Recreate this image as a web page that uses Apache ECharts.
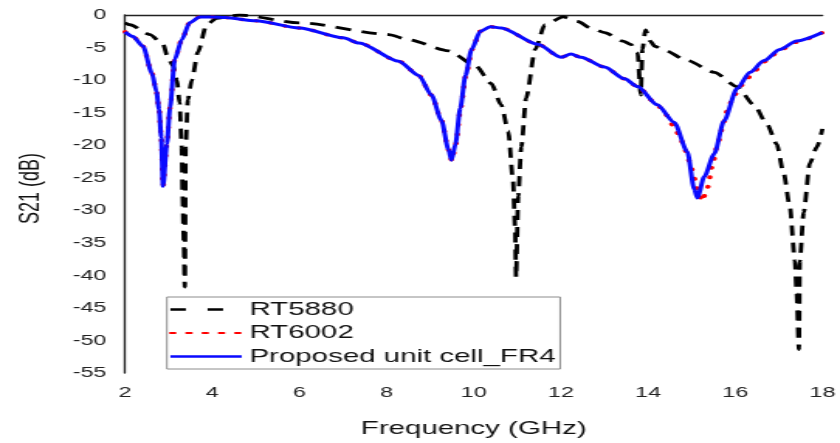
<!DOCTYPE html>
<html>
<head>
<meta charset="utf-8">
<title>S21</title>
<script src="https://cdn.jsdelivr.net/npm/echarts@6.0.0/dist/echarts.min.js"></script>
<style>
    html, body { margin: 0; padding: 0; background: #fff; overflow: hidden; }
    /* the source picture is stretched sideways, so draw narrow and stretch the same way */
    #chart { width: 542px; height: 443px; transform: scaleX(1.5498); transform-origin: 0 0; }
</style>
</head>
<body>
<div id="chart"></div>
<script>
    // x: frequency (GHz), y: S21 (dB)
    var xTicks = [2, 4, 6, 8, 10, 12, 14, 16, 18];
    var yTicks = [0, -5, -10, -15, -20, -25, -30, -35, -40, -45, -50, -55];

    var rt5880Freq = [2.0, 2.11, 2.57, 2.87, 2.98, 3.10, 3.19, 3.25, 3.30, 3.32, 3.35, 3.37, 3.39, 3.44, 3.53, 3.67, 3.87, 4.1, 4.63, 6.0,
        8.05, 8.5, 9.42, 10.04, 10.4, 10.63, 10.79, 10.9, 10.95, 10.97, 11.02, 11.09, 11.2, 11.41, 11.63, 12.05, 12.39, 12.68, 13.0, 13.42,
        13.6, 13.76, 13.83, 13.87, 13.94, 14.05, 14.15, 14.37, 14.9, 15.52, 16.04, 16.43, 16.73, 16.95, 17.11, 17.25, 17.37, 17.41, 17.46,
        17.48, 17.57, 17.71, 17.87, 18.0];
    var rt5880S21 = [-1.2, -1.5, -3.0, -4.5, -6.5, -7.8, -10.0, -13.5, -20.3, -27.8, -35.3, -41.8, -20.3, -13.0, -10.0, -5.7, -1.5, -0.5, 0, -1.2,
        -3.0, -3.8, -5.5, -7.8, -10.5, -13.8, -17.8, -25.3, -32.8, -40.3, -27.8, -20.3, -12.8, -5.3, -1.5, -0.3, -1.0, -2.0, -2.7, -4.0,
        -4.5, -5.8, -12.3, -5.3, -2.3, -4.0, -4.8, -5.4, -7.0, -8.8, -11.0, -13.8, -16.8, -19.8, -24.3, -29.3, -37.8, -42.8, -51.4,
        -37.8, -30.3, -22.8, -20.3, -17.5];

    var rt6002Freq = [2.0, 2.18, 2.41, 2.62, 2.72, 2.78, 2.83, 2.87, 2.96, 3.03, 3.14, 3.30, 3.48, 3.71, 4.0, 4.3, 5.0, 6.0, 7.0, 7.37,
        8.28, 8.74, 9.03, 9.26, 9.42, 9.50, 9.59, 9.70, 9.82, 9.96, 10.15, 10.38, 10.63, 11.47, 12.0, 12.23, 12.46, 13.0, 13.46, 13.76,
        14.21, 14.4, 14.6, 14.74, 14.85, 14.97, 15.06, 15.13, 15.24, 15.36, 15.47, 15.58, 15.7, 15.81, 15.97, 16.2, 16.43, 16.73, 16.95,
        17.37, 18.0];
    var rt6002S21 = [-2.6, -3.3, -4.8, -9.0, -11.8, -14.5, -18.8, -26.3, -19.8, -14.3, -6.8, -3.8, -1.2, -0.3, -0.3, -0.4, -0.9, -2.0, -3.5, -4.3,
        -7.1, -9.3, -12.3, -16.2, -20.7, -22.4, -19.8, -14.3, -9.3, -5.3, -2.5, -1.8, -2.0, -4.5, -6.5, -6.0, -6.5, -8.0, -9.8, -11.0,
        -13.8, -15.3, -17.2, -18.9, -20.8, -22.8, -25.1, -26.8, -28.6, -26.6, -23.3, -20.3, -17.5, -14.8, -12.3, -10.5, -8.6, -7.0, -5.8,
        -4.2, -2.7];

    var fr4Freq = [2.0, 2.18, 2.41, 2.62, 2.72, 2.78, 2.83, 2.87, 2.96, 3.03, 3.14, 3.30, 3.48, 3.71, 4.0, 4.3, 5.0, 6.0, 7.0, 7.37,
        8.28, 8.74, 9.03, 9.26, 9.42, 9.49, 9.58, 9.69, 9.81, 9.95, 10.15, 10.38, 10.63, 11.47, 12.0, 12.23, 12.46, 13.0, 13.46, 13.76,
        14.21, 14.6, 14.9, 15.06, 15.13, 15.29, 15.52, 15.74, 16.04, 16.34, 16.66, 17.02, 17.41, 18.0];
    var fr4S21 = [-2.6, -3.3, -4.8, -9.0, -11.8, -14.5, -18.8, -26.3, -19.8, -14.3, -6.8, -3.8, -1.2, -0.3, -0.3, -0.4, -0.9, -2.0, -3.5, -4.3,
        -7.1, -9.3, -12.3, -16.2, -20.7, -22.3, -19.8, -14.3, -9.3, -5.3, -2.5, -1.8, -2.0, -4.5, -6.5, -6.0, -6.5, -8.0, -9.8, -11.0,
        -13.8, -16.5, -21.0, -26.8, -28.1, -24.8, -21.3, -16.3, -11.3, -8.8, -7.0, -5.3, -4.0, -2.7];

    var seriesNames = ['RT5880', 'RT6002', 'Proposed unit cell_FR4'];

    function pairs(xs, ys) {
        var out = [];
        for (var i = 0; i < xs.length; i++) out.push([xs[i], ys[i]]);
        return out;
    }

    var font = "'Liberation Sans', Arial, sans-serif";
    var chart = echarts.init(document.getElementById('chart'), null, { renderer: 'canvas' });

    var option = {
        animation: false,
        backgroundColor: '#fff',
        grid: { left: 80.7, right: 9, top: 15, bottom: 62 },
        legend: {
            orient: 'vertical',
            left: 107.7,
            top: 297,
            padding: [3, 3, 3, 1],
            itemWidth: 46,
            itemHeight: 14,
            itemGap: 4.5,
            backgroundColor: '#fff',
            borderColor: '#8c8c8c',
            borderWidth: 1,
            borderRadius: 0,
            itemStyle: { opacity: 0 },
            textStyle: { fontFamily: font, fontSize: 19, color: '#111', lineHeight: 19 },
            data: [
                { name: seriesNames[0], lineStyle: { type: [10, 14], width: 2.5 } },
                { name: seriesNames[1], lineStyle: { type: [3, 7.5], width: 2 } },
                { name: seriesNames[2], lineStyle: { width: 2.5 } }
            ]
        },
        xAxis: {
            type: 'value',
            min: 2,
            max: 18,
            interval: 2,
            name: 'Frequency (GHz)',
            nameLocation: 'middle',
            nameGap: 46,
            nameTextStyle: { fontFamily: font, fontSize: 19, color: '#111' },
            axisLine: { show: true, lineStyle: { color: '#222', width: 1.3 } },
            axisTick: { show: false },
            splitLine: { show: false },
            axisLabel: {
                margin: 12, fontFamily: font, fontSize: 15, color: '#222',
                formatter: function (v) { return xTicks.indexOf(v) >= 0 ? String(v) : ''; }
            }
        },
        yAxis: {
            type: 'value',
            min: -55,
            max: 0,
            interval: 5,
            name: 'S21 (dB)',
            nameLocation: 'middle',
            nameGap: 52,
            nameTextStyle: { fontFamily: font, fontSize: 18, color: '#111', padding: [0, 0, 0, 11] },
            axisLine: { show: true, lineStyle: { color: '#222', width: 1.3 } },
            axisTick: { show: false },
            splitLine: { show: false },
            axisLabel: {
                margin: 12, fontFamily: font, fontSize: 15, color: '#222',
                formatter: function (v) { return yTicks.indexOf(v) >= 0 ? String(v) : ''; }
            }
        },
        series: [
            {
                name: seriesNames[0], type: 'line', symbol: 'none', smooth: 0.25, smoothMonotone: 'x',
                lineStyle: { color: '#000', width: 2.8, type: [10, 7] },
                itemStyle: { color: '#000' },
                data: pairs(rt5880Freq, rt5880S21)
            },
            {
                name: seriesNames[1], type: 'line', symbol: 'none', smooth: 0.25, smoothMonotone: 'x',
                lineStyle: { color: '#ff0000', width: 3.4, type: [0.5, 9], cap: 'round' },
                itemStyle: { color: '#ff0000' },
                data: pairs(rt6002Freq, rt6002S21)
            },
            {
                name: seriesNames[2], type: 'line', symbol: 'none', smooth: 0.25, smoothMonotone: 'x',
                lineStyle: { color: '#0a0aff', width: 3 },
                itemStyle: { color: '#0a0aff' },
                data: pairs(fr4Freq, fr4S21)
            }
        ]
    };

    chart.setOption(option);
</script>
</body>
</html>
